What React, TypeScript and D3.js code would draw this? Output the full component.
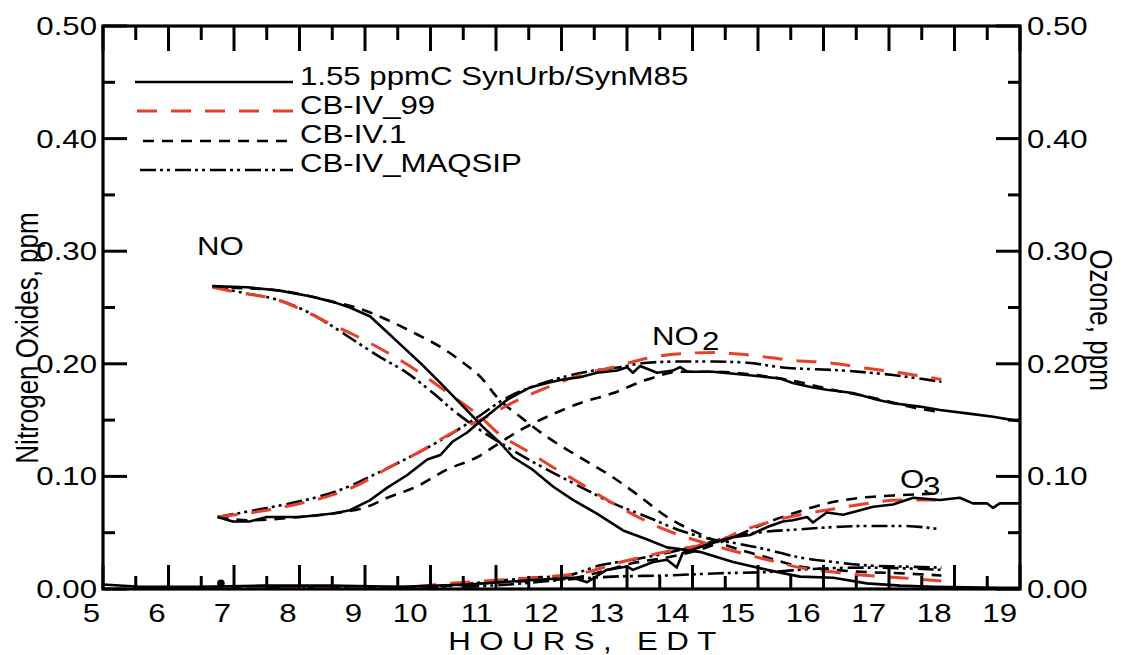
import React from "react";
import * as d3 from "d3";

type P = [number, number];

// ---------- data (hours EDT, ppm) ----------
const xTickValues = [5, 6, 7, 8, 9, 10, 11, 12, 13, 14, 15, 16, 17, 18, 19];
const yTickValues = [0, 0.1, 0.2, 0.3, 0.4, 0.5];
const yTickLabels = ["0.00", "0.10", "0.20", "0.30", "0.40", "0.50"];
const legendLabels = ["1.55 ppmC SynUrb/SynM85", "CB-IV_99", "CB-IV.1", "CB-IV_MAQSIP"];

// Observed (solid)
const NO_OBS: P[] = [[6.67,0.269],[7.2,0.268],[7.7,0.265],[8.16,0.26],[8.51,0.255],[8.77,0.25],[9.08,0.242],[9.34,0.228],[9.58,0.215],[9.84,0.201],[10.15,0.183],[10.45,0.165],[10.8,0.144],[11.06,0.13],[11.26,0.117],[11.56,0.106],[11.87,0.091],[12.18,0.079],[12.54,0.067],[12.94,0.052],[13.31,0.044],[13.61,0.037],[14.11,0.033],[14.62,0.024],[15.14,0.017],[15.64,0.011],[16.15,0.01],[16.66,0.005],[17.17,0.003],[17.67,0.002],[18.7,0.001],[19,0.001]];
const NO2_OBS: P[] = [[6.75,0.064],[6.98,0.06],[7.24,0.06],[7.5,0.064],[8.01,0.064],[8.51,0.067],[8.77,0.07],[9.08,0.079],[9.34,0.09],[9.64,0.101],[9.95,0.115],[10.15,0.119],[10.34,0.131],[10.56,0.139],[10.76,0.149],[11.17,0.168],[11.52,0.179],[11.78,0.183],[12.02,0.186],[12.28,0.188],[12.54,0.192],[12.85,0.194],[13.0,0.197],[13.09,0.192],[13.2,0.198],[13.46,0.192],[13.7,0.194],[13.81,0.197],[13.92,0.193],[14.31,0.193],[14.83,0.19],[15.34,0.187],[15.53,0.183],[15.84,0.179],[16.05,0.177],[16.45,0.174],[16.82,0.168],[17.06,0.165],[17.47,0.162],[17.78,0.159],[18.19,0.156],[18.59,0.153],[18.89,0.15],[19,0.149]];
const O3_OBS: P[] = [[5,0.004],[5.56,0.002],[6.48,0.002],[7.4,0.003],[8.47,0.003],[9.53,0.002],[10.56,0.004],[11.56,0.008],[12.18,0.01],[12.39,0.006],[12.69,0.017],[13.0,0.02],[13.09,0.017],[13.4,0.024],[13.61,0.026],[13.76,0.019],[13.85,0.032],[14.11,0.037],[14.37,0.042],[14.62,0.046],[14.88,0.048],[15.14,0.055],[15.38,0.06],[15.53,0.061],[15.75,0.064],[15.84,0.059],[16.05,0.068],[16.3,0.066],[16.56,0.07],[16.76,0.073],[17.06,0.075],[17.37,0.081],[17.78,0.079],[18.08,0.081],[18.28,0.076],[18.5,0.076],[18.59,0.072],[18.69,0.076],[19,0.076]];
const OBS_POINTS: P[] = [[6.8, 0.005]];

// CB-IV_99 (red long dash)
const NO_CB99: P[] = [[6.67,0.268],[7.09,0.263],[7.6,0.258],[8.11,0.246],[8.42,0.237],[8.82,0.226],[9.34,0.21],[9.84,0.192],[10.34,0.171],[10.76,0.153],[11.02,0.139],[11.52,0.121],[11.93,0.106],[12.28,0.094],[12.79,0.076],[13.2,0.063],[13.61,0.052],[14.01,0.044],[14.42,0.037],[15.14,0.026],[15.64,0.019],[16.15,0.015],[16.66,0.012],[17.17,0.01],[17.8,0.007]];
const NO2_CB99: P[] = [[6.75,0.064],[7.5,0.07],[8.01,0.076],[8.42,0.082],[8.88,0.092],[9.34,0.107],[9.84,0.122],[10.34,0.139],[10.86,0.153],[11.17,0.163],[11.78,0.179],[12.28,0.19],[12.79,0.197],[13.31,0.205],[13.81,0.209],[14.31,0.21],[14.83,0.208],[15.53,0.203],[16.05,0.201],[16.66,0.196],[17.17,0.192],[17.8,0.186]];
const O3_CB99: P[] = [[6.67,0.0005],[8.5,0.001],[9.69,0.002],[10.3,0.005],[11.06,0.008],[11.82,0.011],[12.39,0.015],[12.85,0.023],[13.35,0.03],[13.85,0.036],[14.37,0.042],[14.77,0.052],[15.14,0.059],[15.64,0.066],[16.15,0.071],[16.66,0.076],[17.17,0.079],[17.8,0.079]];

// CB-IV.1 (short dash)
const NO_CB1: P[] = [[6.67,0.268],[7.2,0.267],[7.7,0.265],[8.16,0.26],[8.51,0.255],[8.92,0.249],[9.34,0.239],[9.73,0.228],[10.15,0.215],[10.5,0.201],[10.8,0.186],[11.02,0.17],[11.37,0.153],[11.78,0.135],[12.28,0.117],[12.79,0.099],[13.2,0.082],[13.61,0.064],[14.07,0.05],[14.42,0.041],[15.14,0.028],[15.64,0.02],[16.15,0.017],[16.66,0.015],[17.17,0.014],[17.8,0.012]];
const NO2_CB1: P[] = [[6.75,0.064],[7.24,0.061],[8.0,0.064],[8.51,0.067],[9.03,0.073],[9.34,0.081],[9.79,0.091],[10.25,0.106],[10.71,0.117],[11.06,0.13],[11.37,0.141],[11.78,0.153],[12.28,0.165],[12.79,0.174],[13.31,0.186],[13.81,0.193],[14.31,0.193],[14.83,0.191],[15.53,0.185],[16.05,0.178],[16.82,0.169],[17.47,0.16],[17.8,0.157]];
const O3_CB1: P[] = [[6.67,0.0005],[9,0.001],[10.3,0.003],[11.06,0.006],[12.08,0.009],[12.59,0.015],[13.09,0.023],[13.61,0.028],[14.11,0.035],[14.62,0.046],[15.14,0.059],[15.53,0.067],[16.05,0.076],[16.56,0.081],[17.06,0.083],[17.8,0.085]];

// CB-IV_MAQSIP (dash-dot-dot)
const NO_MAQ: P[] = [[6.67,0.269],[7.14,0.263],[7.66,0.257],[8.16,0.245],[8.51,0.233],[8.88,0.219],[9.23,0.206],[9.64,0.192],[10.04,0.174],[10.34,0.159],[11.26,0.123],[11.78,0.106],[12.28,0.091],[12.79,0.076],[13.31,0.064],[13.81,0.052],[14.31,0.044],[14.62,0.041],[15.14,0.035],[15.64,0.028],[16.15,0.024],[16.66,0.021],[17.17,0.02],[17.8,0.019]];
const NO2_MAQ: P[] = [[6.75,0.064],[7.5,0.072],[8.16,0.08],[8.62,0.088],[9.12,0.101],[9.64,0.116],[10.15,0.132],[10.65,0.15],[11.17,0.17],[11.78,0.184],[12.39,0.193],[12.89,0.197],[13.31,0.201],[13.81,0.202],[14.31,0.202],[14.83,0.201],[15.34,0.197],[16.3,0.194],[17.06,0.19],[17.8,0.184]];
const O3_MAQ: P[] = [[6.67,0.0005],[9.84,0.001],[10.8,0.006],[11.56,0.01],[12.08,0.012],[12.59,0.021],[13.09,0.026],[13.61,0.032],[14.11,0.039],[14.62,0.047],[15.14,0.051],[15.64,0.053],[16.15,0.055],[16.66,0.056],[17.17,0.056],[17.8,0.053]];
const LOW_MAQ: P[] = [[10.5,0.002],[11.2,0.004],[12.0,0.008],[12.79,0.011],[13.6,0.012],[14.42,0.014],[15.14,0.015],[15.9,0.018],[16.66,0.019],[17.8,0.017]];

// ---------- layout ----------
const W = 1127, H = 655;
const L = 103, R = 1020, TOP = 26, B = 589;
const FONT = "'Liberation Sans', Arial, Helvetica, sans-serif";
const RED = "#e8402a";
const SX = 1.2;

const x = d3.scaleLinear().domain([5, 19]).range([L, R]);
const y = d3.scaleLinear().domain([0, 0.5]).range([B, TOP]);

const lineLin = d3.line<P>().x(d => x(d[0])).y(d => y(d[1])).curve(d3.curveLinear);
const lineSmooth = d3.line<P>().x(d => x(d[0])).y(d => y(d[1])).curve(d3.curveMonotoneX);

type Style = { stroke: string; width: number; dash?: string };
const S_OBS: Style = { stroke: "#000", width: 2.6 };
const S_99: Style = { stroke: RED, width: 3, dash: "20 14" };
const S_1: Style = { stroke: "#000", width: 2.6, dash: "11 8" };
const S_MAQ: Style = { stroke: "#000", width: 2.6, dash: "16 4 3 4 3 5" };

function Txt({ x: tx, y: ty, anchor = "start", size = 26, children }: any) {
  return (
    <text transform={`translate(${tx},${ty}) scale(${SX},1)`} textAnchor={anchor}
      fontSize={size} fontFamily={FONT} fill="#000">{children}</text>
  );
}

export default function App() {
  const series: { d: P[]; s: Style; smooth: boolean }[] = [
    { d: O3_CB1, s: S_1, smooth: true },
    { d: NO_CB1, s: S_1, smooth: true },
    { d: NO2_CB1, s: S_1, smooth: true },
    { d: O3_MAQ, s: S_MAQ, smooth: true },
    { d: NO_MAQ, s: S_MAQ, smooth: true },
    { d: NO2_MAQ, s: S_MAQ, smooth: true },
    { d: LOW_MAQ, s: S_MAQ, smooth: true },
    { d: O3_CB99, s: S_99, smooth: true },
    { d: NO_CB99, s: S_99, smooth: true },
    { d: NO2_CB99, s: S_99, smooth: true },
    { d: O3_OBS, s: S_OBS, smooth: false },
    { d: NO_OBS, s: S_OBS, smooth: false },
    { d: NO2_OBS, s: S_OBS, smooth: false },
  ];
  const xMajor = xTickValues;
  const xMinor = d3.range(5.5, 19, 1);
  const yMinor = d3.range(0.05, 0.5, 0.1);
  const legendStyles = [S_OBS, S_99, S_1, S_MAQ];
  const legendLineY = [82, 111, 141, 170];
  const legendTextY = [85, 114, 143, 172];
  const legendX0 = [135, 137, 143, 140];

  return (
    <svg width={W} height={H} style={{ position: "absolute", left: 0, top: 0, background: "#fff" }}>
      <defs>
        <clipPath id="plot"><rect x={L} y={TOP} width={R - L} height={B - TOP} /></clipPath>
      </defs>
      <g clipPath="url(#plot)">
        {series.map((sr, i) => (
          <path key={i} d={(sr.smooth ? lineSmooth : lineLin)(sr.d) || ""} fill="none"
            stroke={sr.s.stroke} strokeWidth={sr.s.width} strokeDasharray={sr.s.dash}
            strokeLinejoin="round" />
        ))}
        {OBS_POINTS.map((p, i) => (
          <circle key={i} cx={x(p[0])} cy={y(p[1])} r={3.8} fill="#000" />
        ))}
      </g>

      {/* frame */}
      <rect x={L} y={TOP} width={R - L} height={B - TOP} fill="none" stroke="#000" strokeWidth={3.2} />

      {/* x ticks */}
      {xMajor.map(v => (
        <g key={"xm" + v}>
          <line x1={x(v)} x2={x(v)} y1={B} y2={B - 24} stroke="#000" strokeWidth={3} />
          <line x1={x(v)} x2={x(v)} y1={TOP} y2={TOP + 25} stroke="#000" strokeWidth={3} />
          <Txt x={x(v) - 3} y={622} anchor="end">{String(v)}</Txt>
        </g>
      ))}
      {xMinor.map(v => (
        <g key={"xn" + v}>
          <line x1={x(v)} x2={x(v)} y1={B} y2={B - 13} stroke="#000" strokeWidth={3} />
          <line x1={x(v)} x2={x(v)} y1={TOP} y2={TOP + 14} stroke="#000" strokeWidth={3} />
        </g>
      ))}
      {/* y ticks */}
      {yTickValues.map((v, i) => (
        <g key={"ym" + v}>
          <line x1={L} x2={L + 24} y1={y(v)} y2={y(v)} stroke="#000" strokeWidth={3} />
          <line x1={R} x2={R - 24} y1={y(v)} y2={y(v)} stroke="#000" strokeWidth={3} />
          <Txt x={97} y={y(v) + 9} anchor="end">{yTickLabels[i]}</Txt>
          <Txt x={1027} y={y(v) + 9} anchor="start">{yTickLabels[i]}</Txt>
        </g>
      ))}
      {yMinor.map(v => (
        <g key={"yn" + v}>
          <line x1={L} x2={L + 12} y1={y(v)} y2={y(v)} stroke="#000" strokeWidth={3} />
          <line x1={R} x2={R - 12} y1={y(v)} y2={y(v)} stroke="#000" strokeWidth={3} />
        </g>
      ))}

      {/* axis titles */}
      <text transform={`translate(${(L + R) / 2 + 25},650) scale(${SX},1)`} textAnchor="middle"
        fontSize={26} fontFamily={FONT} letterSpacing={7}>HOURS, EDT</text>
      <text transform={`translate(38,338) rotate(-90) scale(1,${SX})`} textAnchor="middle"
        fontSize={26} fontFamily={FONT}>Nitrogen Oxides, ppm</text>
      <text transform={`translate(1090,320) rotate(90) scale(1,${SX})`} textAnchor="middle"
        fontSize={26} fontFamily={FONT}>Ozone, ppm</text>

      {/* legend */}
      {legendLabels.map((lab, i) => (
        <g key={"lg" + i}>
          <line x1={legendX0[i]} x2={293} y1={legendLineY[i]} y2={legendLineY[i]}
            stroke={legendStyles[i].stroke} strokeWidth={legendStyles[i].width}
            strokeDasharray={legendStyles[i].dash} />
          <Txt x={300} y={legendTextY[i]}>{lab}</Txt>
        </g>
      ))}

      {/* species annotations */}
      <Txt x={197} y={255}>NO</Txt>
      <Txt x={652} y={345}>NO</Txt>
      <Txt x={702} y={350}>2</Txt>
      <Txt x={900} y={488}>O</Txt>
      <Txt x={923} y={495}>3</Txt>
    </svg>
  );
}
